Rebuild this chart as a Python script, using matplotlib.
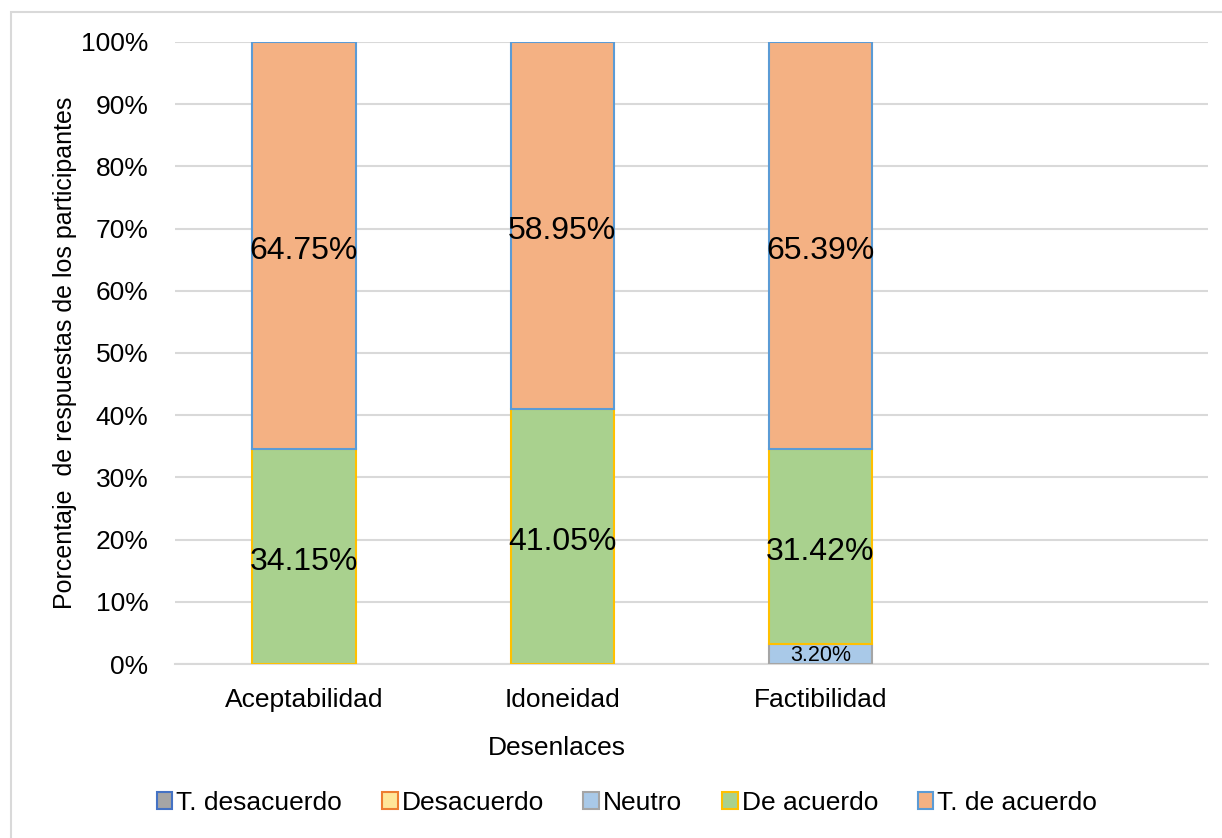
import numpy as np
import matplotlib
matplotlib.use("Agg")
import matplotlib.pyplot as plt
from matplotlib.patches import Rectangle

plt.rcParams['font.family'] = ['Liberation Sans', 'DejaVu Sans']

categories = ["Aceptabilidad", "Idoneidad", "Factibilidad", ""]
series = ["T. desacuerdo", "Desacuerdo", "Neutro", "De acuerdo", "T. de acuerdo"]
t_desacuerdo = [0.0, 0.0, 0.0]
desacuerdo = [0.0, 0.0, 0.0]
neutro = [0.0, 0.0, 3.20]
de_acuerdo = [34.15, 41.05, 31.42]
t_de_acuerdo = [64.75, 58.95, 65.39]

fills = ["#A5A5A5", "#FFE699", "#A9C9E8", "#A9D18E", "#F4B183"]
edges = ["#4472C4", "#ED7D31", "#A5A5A5", "#FFC000", "#5B9BD5"]

values = np.array([t_desacuerdo, desacuerdo, neutro, de_acuerdo, t_de_acuerdo])
totals = values.sum(axis=0)
shares = values / totals * 100  # 100% stacked, like the original

fig = plt.figure(figsize=(12.22, 8.38), dpi=100)
ax = fig.add_axes([0.143, 0.2076, 0.8455, 0.7424])

x = np.arange(3)
bottom = np.zeros(3)
for i, name in enumerate(series):
    ax.bar(x, shares[i], bottom=bottom, width=0.4, color=fills[i],
           edgecolor=edges[i], linewidth=1.5, label=name, zorder=3)
    for j in range(3):
        if values[i, j] > 0:
            big = values[i, j] > 10
            ax.annotate(f"{values[i, j]:.2f}%", (x[j], bottom[j] + shares[i, j] / 2),
                        xytext=(0, -4 if big else -1), textcoords="offset points",
                        ha="center", va="center", fontsize=23 if big else 15.5,
                        zorder=4)
    bottom += shares[i]

ax.set_xlim(-0.5, 3.5)
ax.set_ylim(0, 100)
ax.set_xticks(np.arange(4))
ax.set_xticklabels(categories, fontsize=19)
ax.set_yticks(np.arange(0, 101, 10))
ax.set_yticklabels([f"{v}%" for v in range(0, 101, 10)], fontsize=19)
ax.tick_params(axis="y", length=0, pad=19)
ax.tick_params(axis="x", length=0, pad=17)
ax.yaxis.grid(True, color="#D9D9D9", linewidth=1.5, zorder=0)
for s in ["top", "right", "left"]:
    ax.spines[s].set_visible(False)
ax.spines["bottom"].set_color("#D9D9D9")
ax.spines["bottom"].set_linewidth(1.5)

ax.set_xlabel("Desenlaces", fontsize=19, labelpad=12)
ax.xaxis.set_label_coords(0.37, -0.115)
ax.set_ylabel("Porcentaje  de respuestas de los participantes", fontsize=18, labelpad=3)

fig.legend(loc="center", bbox_to_anchor=(0.513, 0.042), ncol=5, frameon=False,
           fontsize=19, handlelength=0.6, handleheight=0.6, handletextpad=0.15,
           columnspacing=1.5)

fig.patches.append(Rectangle((0.009, -0.01), 1.0, 0.996, transform=fig.transFigure,
                             fill=False, edgecolor="#D9D9D9", linewidth=1.5))

fig.savefig("out.png", dpi=100)
